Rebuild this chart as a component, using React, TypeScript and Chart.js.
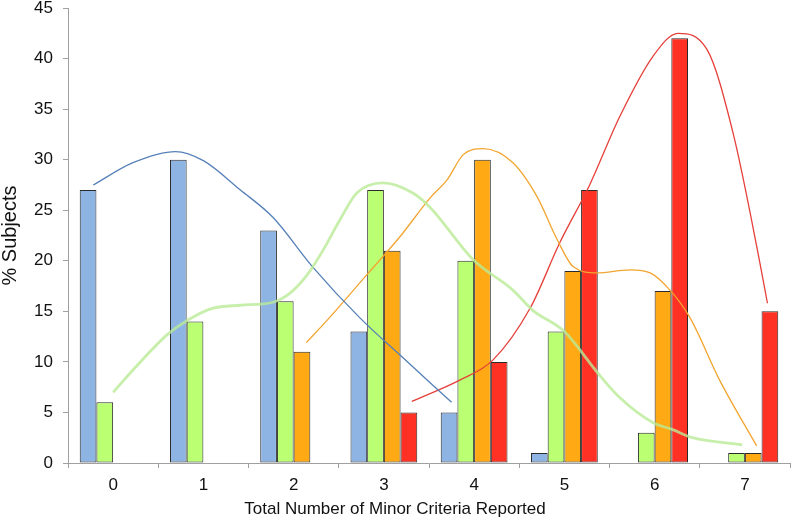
import React, { useEffect, useRef } from "react";
import { Chart, registerables } from "chart.js";

Chart.register(...registerables);

const categories = ["0", "1", "2", "3", "4", "5", "6", "7"];
const blueValues = [27, 30, 23, 13, 5, 1, null, null];
const greenValues = [6, 14, 16, 27, 20, 13, 3, 1];
const orangeValues = [null, null, 11, 21, 30, 19, 17, 1];
const redValues = [null, null, null, 5, 10, 27, 42, 15];

const yMin = 0;
const yMax = 45;
const yStep = 5;

// smooth trend curves (x in category units, y in % subjects)
const blueCurveX = [-0.22, 0.22, 0.69, 1.0, 1.41, 1.77, 2.21, 2.74, 3.2, 3.75];
const blueCurveY = [27.5, 29.7, 30.8, 29.9, 27.0, 24.3, 19.4, 14.3, 10.5, 6.0];

const greenCurveX = [0, 0.24, 0.6, 0.82, 1.1, 1.41, 1.77, 1.96, 2.15, 2.33, 2.51, 2.7, 2.99, 3.32, 3.51, 3.99, 4.43, 4.65, 5.0, 5.37, 5.61, 5.98, 6.2, 6.42, 6.97];
const greenCurveY = [7, 9.4, 12.7, 14.1, 15.3, 15.6, 15.9, 16.8, 18.6, 21.1, 24.0, 26.7, 27.7, 26.7, 25.3, 20.1, 17.1, 15.1, 13.0, 8.9, 6.5, 4.0, 3.3, 2.5, 1.8];

const orangeCurveX = [2.14, 2.37, 2.81, 3.18, 3.51, 3.7, 3.88, 4.1, 4.43, 4.7, 4.92, 5.1, 5.36, 5.73, 5.95, 6.17, 6.39, 6.72, 7.13];
const orangeCurveY = [11.9, 14.1, 18.6, 22.4, 26.2, 28.0, 30.5, 31.1, 29.7, 26.3, 22.1, 19.4, 18.8, 19.1, 18.8, 17.1, 14.4, 8.2, 1.7];

const redCurveX = [3.31, 3.84, 4.21, 4.62, 4.95, 5.28, 5.61, 5.98, 6.26, 6.58, 6.87, 7.16, 7.25];
const redCurveY = [6.1, 8.2, 10.2, 15.3, 21.8, 27.5, 34.2, 40.2, 42.5, 40.9, 32.6, 20.1, 15.8];

const xTitle = "Total Number of Minor Criteria Reported";
const yTitle = "% Subjects";

const toPoints = (xs: number[], ys: number[]) => xs.map((x, i) => ({ x, y: ys[i] }));

export default function App() {
  const barRef = useRef<HTMLCanvasElement | null>(null);
  const lineRef = useRef<HTMLCanvasElement | null>(null);

  useEffect(() => {
    if (!barRef.current || !lineRef.current) return;
    const font = "'Liberation Sans', Arial, sans-serif";
    const barBase = {
      borderColor: "#2b2b2b",
      borderWidth: 1,
      borderSkipped: false,
      categoryPercentage: 0.74,
      barPercentage: 1.0,
    };
    const barChart = new Chart(barRef.current, {
      type: "bar",
      data: {
        labels: categories,
        datasets: [
          { ...barBase, label: "blue", data: blueValues, backgroundColor: "#8EB4E3" },
          { ...barBase, label: "green", data: greenValues, backgroundColor: "#BBFF72" },
          { ...barBase, label: "orange", data: orangeValues, backgroundColor: "#FFA914" },
          { ...barBase, label: "red", data: redValues, backgroundColor: "#FF3125" },
        ] as any,
      },
      options: {
        animation: false,
        responsive: false,
        layout: { padding: { left: 0, right: 3, top: 8, bottom: 0 } },
        plugins: {
          legend: { display: false },
          tooltip: { enabled: false },
          title: {
            display: true,
            position: "bottom",
            text: xTitle,
            color: "#111",
            font: { family: font, size: 17, weight: "normal" },
            padding: { top: 2, bottom: 0 },
          },
        },
        scales: {
          x: {
            type: "category",
            offset: true,
            grid: { display: true, drawOnChartArea: false, drawTicks: true, tickLength: 5, color: "#A0A0A0", offset: true },
            border: { display: true, color: "#A0A0A0", width: 1 },
            ticks: { color: "#111", font: { family: font, size: 17 }, padding: 7, maxRotation: 0 },
            afterFit: (s: any) => { s.height = 34.6; s.paddingLeft = 0; s.paddingRight = 0; },
          },
          y: {
            type: "linear",
            min: yMin,
            max: yMax,
            grid: { display: true, drawOnChartArea: false, drawTicks: true, tickLength: 5, color: "#A0A0A0" },
            border: { display: true, color: "#A0A0A0", width: 1 },
            ticks: { stepSize: yStep, color: "#111", font: { family: font, size: 17 }, padding: 10 },
            title: {
              display: true,
              text: yTitle,
              color: "#111",
              font: { family: font, size: 20, weight: "normal", lineHeight: 1.0 },
              padding: 0,
            },
            afterFit: (s: any) => { s.width = 68; s.paddingTop = 0; s.paddingBottom = 0; },
          },
        },
      } as any,
    });

    const area = barChart.chartArea;
    const lineBase = {
      pointRadius: 0,
      fill: false,
      cubicInterpolationMode: "monotone" as const,
    };
    const lineChart = new Chart(lineRef.current, {
      type: "line",
      data: {
        datasets: [
          { ...lineBase, label: "greenCurve", data: toPoints(greenCurveX, greenCurveY), borderColor: "rgba(185,235,150,0.8)", borderWidth: 2.8 },
          { ...lineBase, label: "blueCurve", data: toPoints(blueCurveX, blueCurveY), borderColor: "#5580B8", borderWidth: 1.3 },
          { ...lineBase, label: "orangeCurve", data: toPoints(orangeCurveX, orangeCurveY), borderColor: "#F2A530", borderWidth: 1.3 },
          { ...lineBase, label: "redCurve", data: toPoints(redCurveX, redCurveY), borderColor: "#E5403A", borderWidth: 1.3 },
        ] as any,
      },
      options: {
        animation: false,
        responsive: false,
        layout: {
          padding: {
            left: area.left,
            top: area.top,
            right: 793 - area.right,
            bottom: 520 - area.bottom,
          },
        },
        plugins: { legend: { display: false }, tooltip: { enabled: false }, title: { display: false } },
        scales: {
          x: { type: "linear", display: false, min: -0.5, max: 7.5, offset: false },
          y: { type: "linear", display: false, min: yMin, max: yMax },
        },
      } as any,
    });

    return () => {
      lineChart.destroy();
      barChart.destroy();
    };
  }, []);

  return (
    <div style={{ position: "fixed", left: 0, top: 0, width: 793, height: 520, background: "#fff" }}>
      <canvas ref={barRef} width={793} height={520} style={{ position: "absolute", left: 0, top: 0 }} />
      <canvas ref={lineRef} width={793} height={520} style={{ position: "absolute", left: 0, top: 0 }} />
    </div>
  );
}
